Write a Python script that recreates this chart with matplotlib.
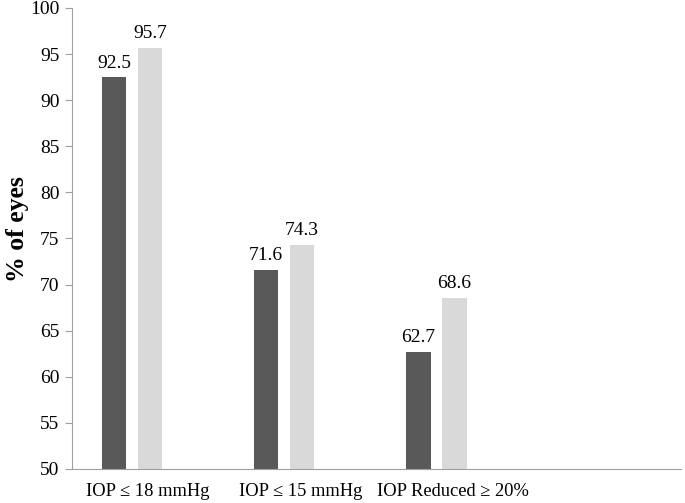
import numpy as np
import matplotlib.pyplot as plt

plt.rcParams['font.family'] = ['Liberation Serif', 'DejaVu Serif']

categories = ["IOP \u2264 18 mmHg", "IOP \u2264 15 mmHg", "IOP Reduced \u2265 20%", ""]
series_a = [92.5, 71.6, 62.7]
series_b = [95.7, 74.3, 68.6]
yticks = list(range(50, 101, 5))

fig = plt.figure(figsize=(6.85, 5.03), dpi=100)
ax = fig.add_axes([0.105, 0.0676, 0.889, 0.9165])

x = np.arange(len(series_a))
w = 0.236
# two bars per group, third slot left empty as in the original
bars_a = ax.bar(x - w + 0.012, series_a, w * 0.68, color="#595959")
bars_b = ax.bar(x + 0.012, series_b, w * 0.68, color="#d9d9d9")

for bars, vals in [(bars_a, series_a), (bars_b, series_b)]:
    for b, v in zip(bars, vals):
        ax.text(b.get_x() + b.get_width() / 2, v + 0.6, f"{v:.1f}",
                ha="center", va="bottom", fontsize=14)

ax.set_xlim(-0.5, 3.5)
ax.set_ylim(50, 100)
ax.set_yticks(yticks)
ax.tick_params(axis="y", labelsize=14, color="#a0a0a0", length=5, pad=4)
ax.set_xticks(np.arange(len(categories)))
ax.set_xticklabels(categories, fontsize=13.3)
ax.tick_params(axis="x", length=0, pad=10)
for s in ["top", "right"]:
    ax.spines[s].set_visible(False)
for s in ["left", "bottom"]:
    ax.spines[s].set_color("#a0a0a0")

ax.set_ylabel("% of eyes", fontsize=18.5, fontweight="bold")
ax.yaxis.set_label_coords(-0.07, 0.52)

fig.savefig("out.png")
